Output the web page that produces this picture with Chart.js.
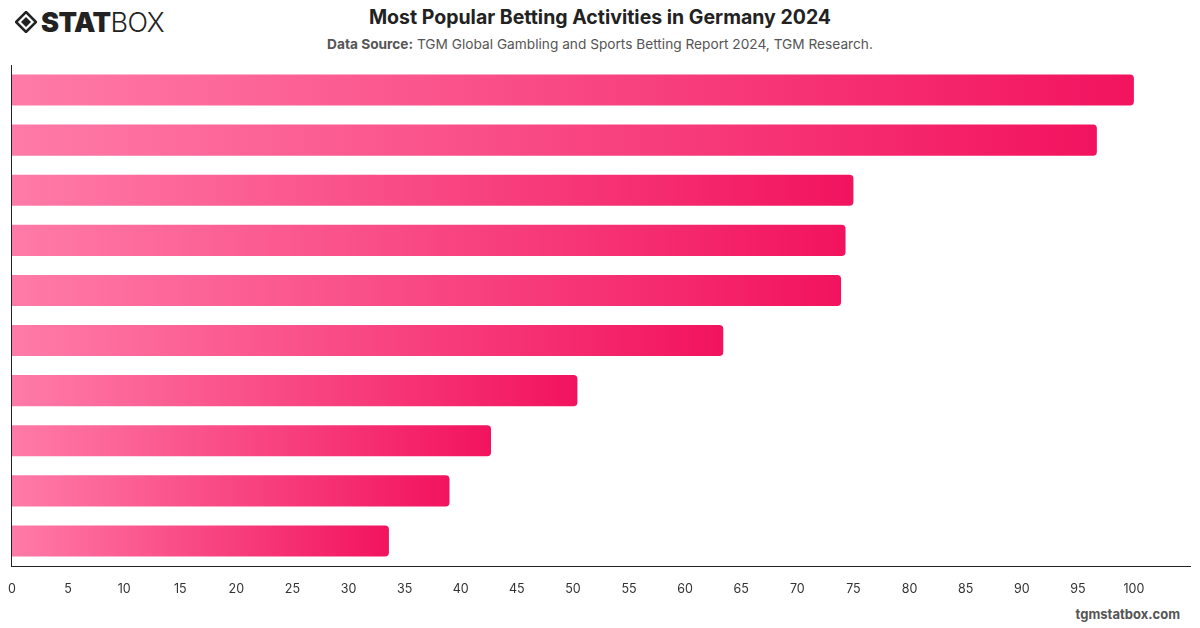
<!DOCTYPE html>
<html>
<head>
<meta charset="utf-8">
<script src="https://cdn.jsdelivr.net/npm/chart.js@4.4.1/dist/chart.umd.min.js"></script>
<style>
  html, body { margin:0; padding:0; background:#fff; }
  body { width:1200px; height:628px; position:relative; overflow:hidden; font-family: Inter, "Helvetica Neue", Arial, sans-serif; }
  #logo { position:absolute; left:15px; top:8px; height:28px; display:flex; align-items:center; }
  #logo .t1 { font-family: Inter, sans-serif; font-weight:900; font-size:27px; color:#222; letter-spacing:-0.5px; margin-left:4px; }
  #logo .t2 { font-family: Inter, sans-serif; font-weight:300; font-size:27px; color:#222; letter-spacing:-0.5px; }
  #title { position:absolute; left:0; width:1200px; top:5px; text-align:center; font-size:19.5px; font-weight:700; color:#222; }
  #sub { position:absolute; left:0; width:1200px; top:36px; text-align:center; font-size:13.7px; color:#555; }
  #sub b { font-weight:700; }
  #footer { position:absolute; right:20px; top:606px; font-size:13px; font-weight:700; color:#555; }
  #wrap { position:absolute; left:0; top:60px; width:1200px; height:545px; }
</style>
</head>
<body>
<div id="logo">
  <svg width="22" height="22" viewBox="0 0 22 22">
    <polygon points="11,1 21,11 11,21 1,11" fill="none" stroke="#222" stroke-width="2.5"/>
    <polygon points="11,6 16,11 11,16 6,11" fill="#222"/>
  </svg>
  <span class="t1">STAT</span><span class="t2">BOX</span>
</div>
<div id="title">Most Popular Betting Activities in Germany 2024</div>
<div id="sub"><b>Data Source:</b> TGM Global Gambling and Sports Betting Report 2024, TGM Research.</div>
<div id="wrap"><canvas id="c"></canvas></div>
<div id="footer">tgmstatbox.com</div>
<script>
const categories = ["Activity 1","Activity 2","Activity 3","Activity 4","Activity 5","Activity 6","Activity 7","Activity 8","Activity 9","Activity 10"];
const values = [100, 96.7, 75.0, 74.3, 73.9, 63.4, 50.4, 42.7, 39.0, 33.6];
const xTicks = [0,5,10,15,20,25,30,35,40,45,50,55,60,65,70,75,80,85,90,95,100];

const colorLight = "#ff7ba7";
const colorDark = "#f2135f";

function barGradient(ctx) {
  const chart = ctx.chart;
  if (!chart.chartArea || ctx.type !== 'data') return colorDark;
  const xs = chart.scales.x;
  const x0 = xs.getPixelForValue(0);
  const x1 = xs.getPixelForValue(ctx.raw);
  const g = chart.ctx.createLinearGradient(x0, 0, Math.max(x1, x0 + 1), 0);
  g.addColorStop(0, colorLight);
  g.addColorStop(1, colorDark);
  return g;
}

new Chart(document.getElementById('c'), {
  type: 'bar',
  data: {
    labels: categories,
    datasets: [{
      data: values,
      backgroundColor: barGradient,
      borderRadius: 4,
      borderSkipped: 'start',
      barPercentage: 0.62,
      categoryPercentage: 1.0
    }]
  },
  options: {
    indexAxis: 'y',
    responsive: true,
    maintainAspectRatio: false,
    animation: false,
    layout: { padding: { left: 2, right: 10, top: 5, bottom: 0 } },
    plugins: { legend: { display: false }, tooltip: { enabled: false } },
    scales: {
      x: {
        min: 0, max: 105,
        grid: { display: false },
        border: { display: true, color: '#222', width: 1 },
        afterBuildTicks: (axis) => { axis.ticks = xTicks.map(v => ({ value: v })); },
        ticks: { color: '#333', font: { family: 'Inter', size: 12.5 }, padding: 8, maxRotation: 0 }
      },
      y: {
        grid: { display: false },
        border: { display: true, color: '#222', width: 1 },
        ticks: { display: false }
      }
    }
  }
});
</script>
</body>
</html>
